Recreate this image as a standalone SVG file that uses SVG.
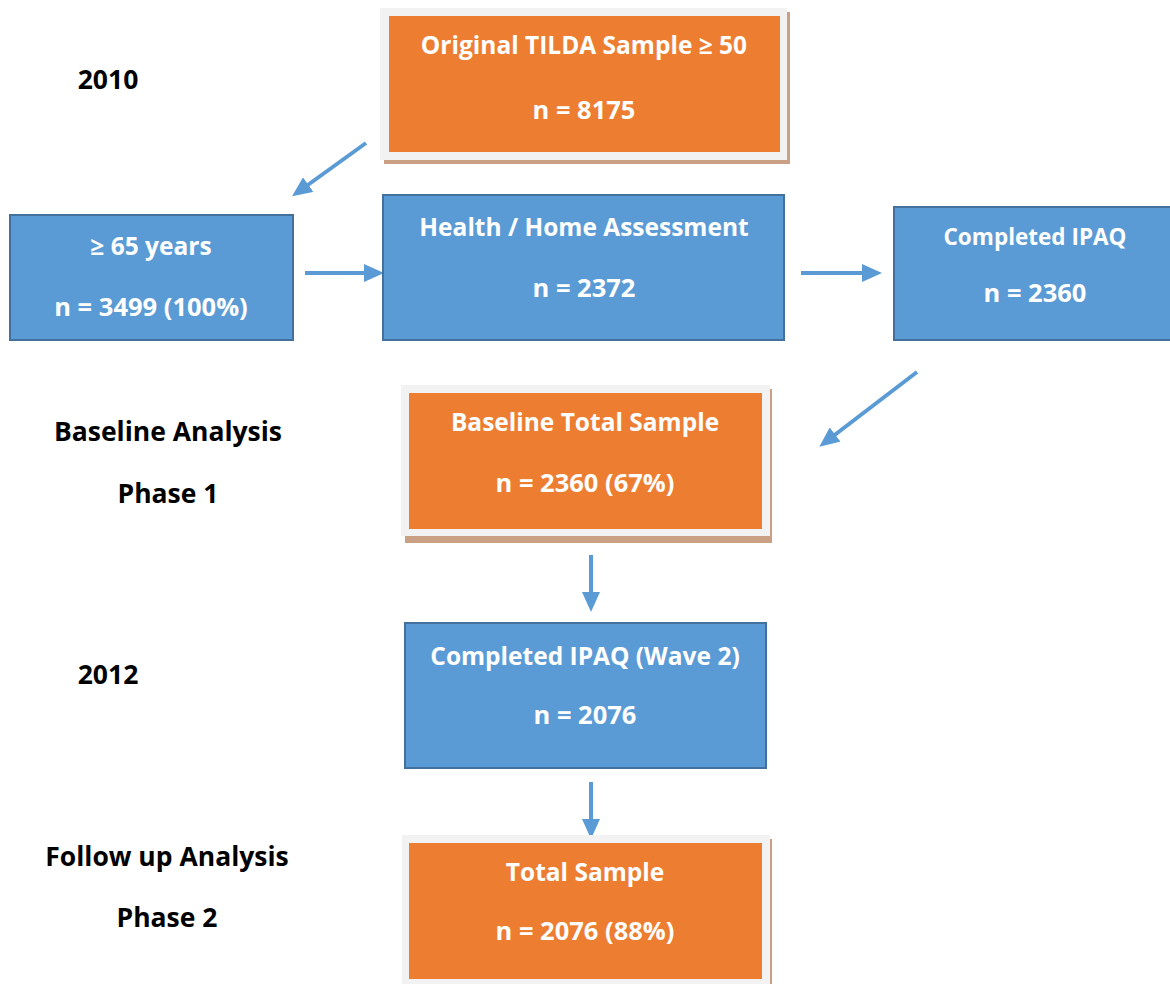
<svg xmlns="http://www.w3.org/2000/svg" width="1170" height="984" viewBox="0 0 1170 984">
<defs>
<style>
.t{font-family:"Open Sans","Liberation Sans",sans-serif;font-weight:bold;font-size:24.5px;text-anchor:middle;fill:#fff}
.n{font-size:25.5px}
.s{font-size:22.5px}
.l{font-family:"Open Sans","Liberation Sans",sans-serif;font-weight:bold;font-size:26.5px;text-anchor:middle;fill:#000}
.frame{fill:#f2f2f2}
.shadow{fill:#c9a084}
.orange{fill:#ed7d31}
.blue{fill:#5b9bd5;stroke:#41719c;stroke-width:2}
.arr{stroke:#5b9bd5;stroke-width:4;fill:none;marker-end:url(#ah)}
</style>
<marker id="ah" markerWidth="5" markerHeight="4.5" refX="1" refY="2.25" orient="auto" markerUnits="strokeWidth" viewBox="0 0 5 4.5">
<path d="M0,0 L5,2.25 L0,4.5 z" fill="#5b9bd5"/>
</marker>
</defs>
<rect width="1170" height="984" fill="#fff"/>
<g id="labels">
<text class="l" x="108" y="89">2010</text>
<text class="l" x="168" y="441">Baseline Analysis</text>
<text class="l" x="168" y="503">Phase 1</text>
<text class="l" x="108" y="684">2012</text>
<text class="l" x="167" y="866">Follow up Analysis</text>
<text class="l" x="167" y="927">Phase 2</text>
</g>
<g id="connectors">
<line class="arr" x1="366" y1="143" x2="305" y2="187"/>
<line class="arr" x1="305" y1="273" x2="368" y2="273"/>
<line class="arr" x1="801" y1="273" x2="866" y2="273"/>
<line class="arr" x1="917" y1="372" x2="832" y2="437"/>
<line class="arr" x1="591" y1="555" x2="591" y2="596"/>
<line class="arr" x1="591" y1="782" x2="591" y2="823"/>
</g>
<g id="original">
<rect class="shadow" x="384" y="12" width="406" height="152"/>
<rect class="frame" x="380" y="8" width="407" height="152"/>
<rect class="orange" x="389" y="16" width="391" height="136"/>
<text class="t" x="584" y="54">Original TILDA Sample ≥ 50</text>
<text class="t n" x="584" y="119">n = 8175</text>
</g>
<g id="over65">
<rect class="blue" x="10" y="215" width="283" height="125"/>
<text class="t" x="151" y="255">≥ 65 years</text>
<text class="t n" x="151" y="316">n = 3499 (100%)</text>
</g>
<g id="health">
<rect class="blue" x="383" y="195" width="401" height="145"/>
<text class="t" x="584" y="236">Health / Home Assessment</text>
<text class="t n" x="584" y="297">n = 2372</text>
</g>
<g id="ipaq">
<rect class="blue" x="894" y="207" width="280" height="133"/>
<text class="t s" x="1035" y="245">Completed IPAQ</text>
<text class="t n" x="1035" y="302">n = 2360</text>
</g>
<g id="baseline">
<rect class="shadow" x="405" y="389" width="367" height="154"/>
<rect class="frame" x="401" y="385" width="369" height="151"/>
<rect class="orange" x="409" y="393" width="353" height="136"/>
<text class="t" x="585" y="431">Baseline Total Sample</text>
<text class="t n" x="585" y="492">n = 2360 (67%)</text>
</g>
<g id="wave2">
<rect class="blue" x="405" y="623" width="361" height="145"/>
<text class="t" x="585" y="665">Completed IPAQ (Wave 2)</text>
<text class="t n" x="585" y="724">n = 2076</text>
</g>
<g id="total">
<rect class="shadow" x="406" y="839" width="366" height="150"/>
<rect class="frame" x="402" y="835" width="368" height="150"/>
<rect class="orange" x="409" y="843" width="353" height="136"/>
<text class="t" x="585" y="881">Total Sample</text>
<text class="t n" x="585" y="940">n = 2076 (88%)</text>
</g>
</svg>
